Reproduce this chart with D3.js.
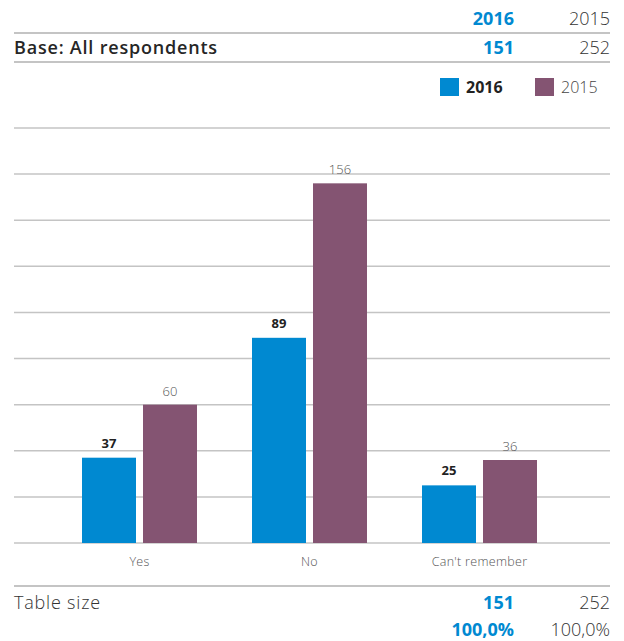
<!DOCTYPE html>
<html>
<head>
<meta charset="utf-8">
<script src="https://cdn.jsdelivr.net/npm/d3@7"></script>
<style>
  html, body { margin: 0; padding: 0; background: #fff; }
  svg { display: block; font-family: "Open Sans", "Lato", sans-serif; }
</style>
</head>
<body>
<svg id="chart" width="624" height="641"></svg>
<script>
// Chart data
const categories = ["Yes", "No", "Can't remember"];
const years = ["2016", "2015"];
const values2016 = [37, 89, 25];
const values2015 = [60, 156, 36];
const baseCounts = [151, 252];
const tableSize = [151, 252];
const tablePct = ["100,0%", "100,0%"];
const gridTicks = [0, 20, 40, 60, 80, 100, 120, 140, 160, 180];

const colors = { "2016": "#0089d1", "2015": "#845472" };
const lineColor = "#c4c4c4";

const svg = d3.select("#chart");
const left = 14, right = 610;
const col2016 = 514, col2015 = 610;

const y = d3.scaleLinear().domain([0, 180]).range([543, 128]);
const x0 = d3.scaleBand().domain(categories).range([82, 537]).paddingInner(55 / 170).paddingOuter(0);
const x1 = d3.scaleBand().domain(years).range([0, x0.bandwidth()]).paddingInner(7 / 61).paddingOuter(0);

// Header table
svg.append("text").attr("x", col2016).attr("y", 25).attr("text-anchor", "end")
  .attr("font-size", 18).attr("font-weight", 700).attr("fill", colors["2016"]).text(years[0]);
svg.append("text").attr("x", col2015).attr("y", 25).attr("text-anchor", "end")
  .attr("font-size", 18).attr("font-weight", 300).attr("fill", "#333").text(years[1]);
svg.append("line").attr("x1", left).attr("x2", right).attr("y1", 33).attr("y2", 33)
  .attr("stroke", lineColor).attr("stroke-width", 2);
svg.append("text").attr("x", left).attr("y", 54)
  .attr("font-size", 18).attr("font-weight", 600).attr("letter-spacing", 0.8)
  .attr("fill", "#262626").text("Base: All respondents");
svg.append("text").attr("x", col2016).attr("y", 54).attr("text-anchor", "end")
  .attr("font-size", 18).attr("font-weight", 700).attr("fill", colors["2016"]).text(baseCounts[0]);
svg.append("text").attr("x", col2015).attr("y", 54).attr("text-anchor", "end")
  .attr("font-size", 18).attr("font-weight", 300).attr("fill", "#333").text(baseCounts[1]);
svg.append("line").attr("x1", left).attr("x2", right).attr("y1", 62).attr("y2", 62)
  .attr("stroke", lineColor).attr("stroke-width", 2);

// Legend
const legend = [
  { key: "2016", x: 440, weight: 700, fill: "#222" },
  { key: "2015", x: 535, weight: 300, fill: "#444" }
];
const lg = svg.append("g").selectAll("g").data(legend).join("g")
  .attr("transform", d => `translate(${d.x},78)`);
lg.append("rect").attr("width", 19).attr("height", 18).attr("fill", d => colors[d.key]);
lg.append("text").attr("x", 26).attr("y", 15).attr("font-size", 16)
  .attr("font-weight", d => d.weight).attr("fill", d => d.fill).text(d => d.key);

// Gridlines
svg.append("g").selectAll("line").data(gridTicks).join("line")
  .attr("x1", left).attr("x2", right)
  .attr("y1", d => y(d)).attr("y2", d => y(d))
  .attr("stroke", lineColor).attr("stroke-width", 1.5);

// Bars
const rows = categories.map((c, i) => ({ cat: c, vals: [
  { year: "2016", v: values2016[i] }, { year: "2015", v: values2015[i] }
]}));
const groups = svg.append("g").selectAll("g").data(rows).join("g")
  .attr("transform", d => `translate(${x0(d.cat)},0)`);
groups.selectAll("rect").data(d => d.vals).join("rect")
  .attr("x", d => x1(d.year)).attr("width", x1.bandwidth())
  .attr("y", d => y(d.v)).attr("height", d => y(0) - y(d.v))
  .attr("fill", d => colors[d.year]);
groups.selectAll("text.val").data(d => d.vals).join("text").attr("class", "val")
  .attr("x", d => x1(d.year) + x1.bandwidth() / 2)
  .attr("y", d => y(d.v) - (d.year === "2016" ? 10 : 9))
  .attr("text-anchor", "middle").attr("font-size", 13)
  .attr("font-weight", d => d.year === "2016" ? 700 : 300)
  .attr("fill", d => d.year === "2016" ? "#222" : "#555")
  .text(d => d.v);

// Category axis
const xAxis = svg.append("g").attr("transform", `translate(0,${y(0)})`)
  .call(d3.axisBottom(x0).tickSize(0).tickPadding(14));
xAxis.select(".domain").remove();
xAxis.selectAll("text").attr("font-size", 12.5).attr("font-weight", 300)
  .attr("letter-spacing", 0.3)
  .attr("fill", "#555").attr("font-family", "\"Open Sans\", sans-serif");

// Footer table
svg.append("line").attr("x1", left).attr("x2", right).attr("y1", 586).attr("y2", 586)
  .attr("stroke", lineColor).attr("stroke-width", 2);
svg.append("text").attr("x", left).attr("y", 609)
  .attr("font-size", 18).attr("font-weight", 300).attr("letter-spacing", 0.8)
  .attr("fill", "#333").text("Table size");
svg.append("text").attr("x", col2016).attr("y", 609).attr("text-anchor", "end")
  .attr("font-size", 18).attr("font-weight", 700).attr("fill", colors["2016"]).text(tableSize[0]);
svg.append("text").attr("x", col2015).attr("y", 609).attr("text-anchor", "end")
  .attr("font-size", 18).attr("font-weight", 300).attr("fill", "#333").text(tableSize[1]);
svg.append("text").attr("x", col2016).attr("y", 636).attr("text-anchor", "end")
  .attr("font-size", 18).attr("font-weight", 700).attr("fill", colors["2016"]).text(tablePct[0]);
svg.append("text").attr("x", col2015).attr("y", 636).attr("text-anchor", "end")
  .attr("font-size", 18).attr("font-weight", 300).attr("fill", "#333").text(tablePct[1]);
</script>
</body>
</html>
